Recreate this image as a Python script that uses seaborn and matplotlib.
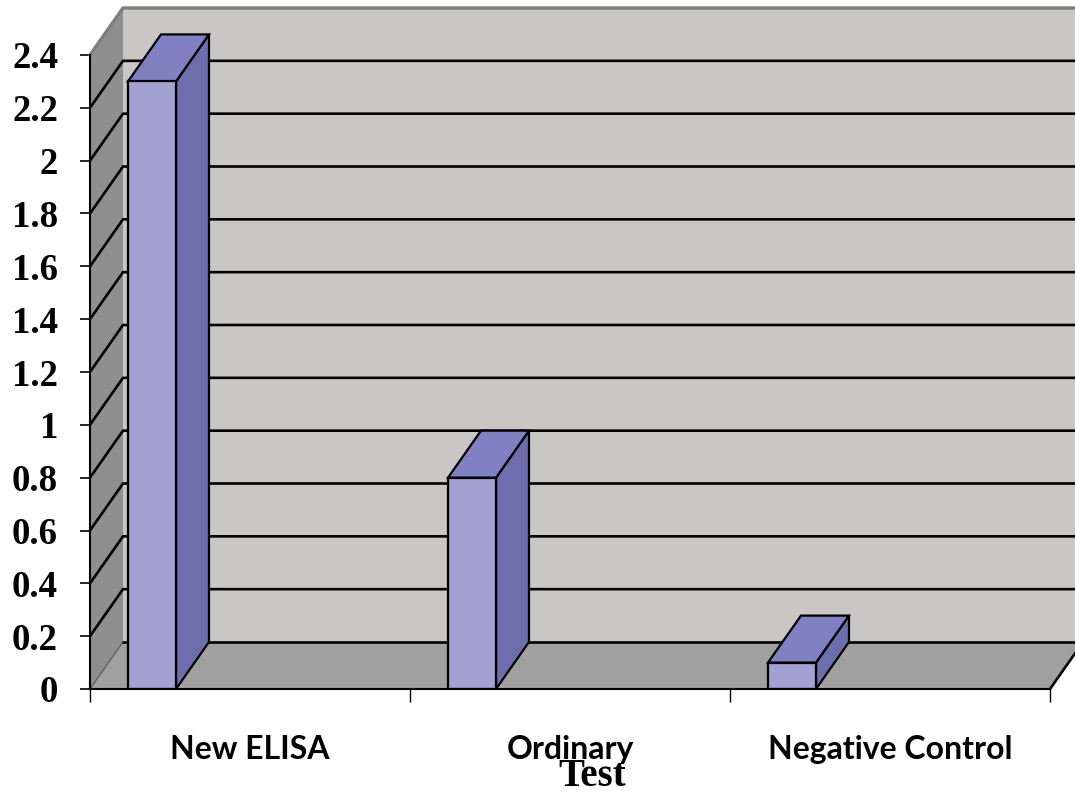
import numpy as np
import pandas as pd
import matplotlib
matplotlib.use("Agg")
import matplotlib.pyplot as plt
import matplotlib.transforms as mtransforms
from matplotlib.patches import Polygon
import seaborn as sns

# ---- data -------------------------------------------------------------
categories = ["New ELISA", "Ordinary", "Negative Control"]
values = [2.3, 0.8, 0.1]
y_ticks = [0, 0.2, 0.4, 0.6, 0.8, 1.0, 1.2, 1.4, 1.6, 1.8, 2.0, 2.2, 2.4]
y_tick_labels = ["0", "0.2", "0.4", "0.6", "0.8", "1", "1.2", "1.4",
                 "1.6", "1.8", "2", "2.2", "2.4"]
x_title = "Test"

# ---- style ------------------------------------------------------------
sns.set_style("white")
plt.rcParams["font.family"] = ["Liberation Serif", "DejaVu Serif"]

DEPTH_PX = np.array([33.0, 47.0])   # oblique depth of the 3-D box, in pixels
BAR_WIDTH = 0.15                    # bar width as a fraction of a category band
BAR_SHIFT = 0.19375                 # bar centre offset from its band's left edge

WALL = "#c8c7c5"
SIDE_WALL = "#8f8f8f"
FLOOR = "#a0a0a0"
BAR_FRONT = "#a3a1d2"
BAR_SIDE = "#6e6eae"
BAR_TOP = "#8080c2"

fig = plt.figure(figsize=(10.75, 7.94), dpi=100)
ax = fig.add_axes([90 / 1075, 105 / 794, 960 / 1075, 634 / 794])
ax.set_facecolor("none")

df = pd.DataFrame({"Test": categories, "Value": values})
sns.barplot(data=df, x="Test", y="Value", width=BAR_WIDTH, color=BAR_FRONT,
            saturation=1, edgecolor="black", linewidth=1.6, errorbar=None,
            ax=ax, zorder=6)

ax.set_xlim(-BAR_SHIFT, len(categories) - BAR_SHIFT)
ax.set_ylim(y_ticks[0], y_ticks[-1])
x0, x1 = ax.get_xlim()
top = y_ticks[-1]

# depth offset expressed in data units
origin = ax.transData.transform((0.0, 0.0))
ddx, ddy = ax.transData.inverted().transform(origin + DEPTH_PX)


def face(points, color, z, lw=0.0, ec="none"):
    ax.add_patch(Polygon(points, closed=True, facecolor=color, edgecolor=ec,
                         linewidth=lw, joinstyle="miter", clip_on=False,
                         zorder=z))


# back wall, side wall and floor of the 3-D box
face([(x0 + ddx, ddy), (x1 + ddx, ddy), (x1 + ddx, top + ddy),
      (x0 + ddx, top + ddy)], WALL, 0.5)
face([(x0, 0), (x0 + ddx, ddy), (x0 + ddx, top + ddy), (x0, top)],
     SIDE_WALL, 0.6)
face([(x0, 0), (x1, 0), (x1 + ddx, ddy), (x0 + ddx, ddy)], FLOOR, 0.7)

# gridlines wrapping the side wall and the back wall
for v in y_ticks[1:-1]:
    ax.plot([x0, x0 + ddx, x1 + ddx], [v, v + ddy, v + ddy], color="black",
            lw=1.9, solid_capstyle="butt", clip_on=False, zorder=1)
ax.plot([x0, x0 + ddx], [0, ddy], color="#555555", lw=0.8, clip_on=False,
        zorder=1)
ax.plot([x0 + ddx, x1 + ddx], [ddy, ddy], color="black", lw=1.9,
        clip_on=False, zorder=1)
ax.plot([x1, x1 + ddx], [0, ddy], color="black", lw=1.9, clip_on=False,
        zorder=1)
ax.plot([x0, x0 + ddx, x1 + ddx], [top, top + ddy, top + ddy],
        color="#7d7d7d", lw=2.4, clip_on=False, zorder=1)

# side and top faces of each bar, built from the drawn bars
for bar in ax.patches[:]:
    if not isinstance(bar, matplotlib.patches.Rectangle):
        continue
    xl = bar.get_x()
    xr = xl + bar.get_width()
    h = bar.get_height()
    face([(xr, 0), (xr + ddx, ddy), (xr + ddx, h + ddy), (xr, h)],
         BAR_SIDE, 5, lw=1.6, ec="black")
    face([(xl, h), (xr, h), (xr + ddx, h + ddy), (xl + ddx, h + ddy)],
         BAR_TOP, 5, lw=1.6, ec="black")

# axes lines and ticks
sns.despine(ax=ax)
for side in ("left", "bottom"):
    ax.spines[side].set_color("black")
    ax.spines[side].set_linewidth(1.5)
    ax.spines[side].set_zorder(7)

ax.set_yticks(y_ticks, labels=y_tick_labels)
ax.tick_params(axis="y", left=True, length=7, width=1.2, color="black",
               pad=16, labelsize=26.5, labelcolor="black")
for lbl in ax.get_yticklabels():
    lbl.set_fontweight("bold")

bounds = [x0 + k for k in range(len(categories) + 1)]
ax.set_xticks(bounds, labels=[""] * len(bounds))
ax.tick_params(axis="x", bottom=True, length=9, width=1.0, color="black")

band = mtransforms.blended_transform_factory(ax.transData, ax.transAxes)
for k, name in enumerate(categories):
    ax.text(x0 + k + 0.5, -0.110, name, transform=band, ha="center",
            va="baseline", fontsize=23, fontweight="bold", family="Lato",
            color="black")

ax.set_ylabel("")
ax.set_xlabel(x_title, fontsize=28, fontweight="bold", color="black")
ax.xaxis.set_label_coords((592 - 90) / 960, (689 - 786) / 634)
ax.xaxis.label.set_va("baseline")

fig.savefig("out.png", dpi=100)
